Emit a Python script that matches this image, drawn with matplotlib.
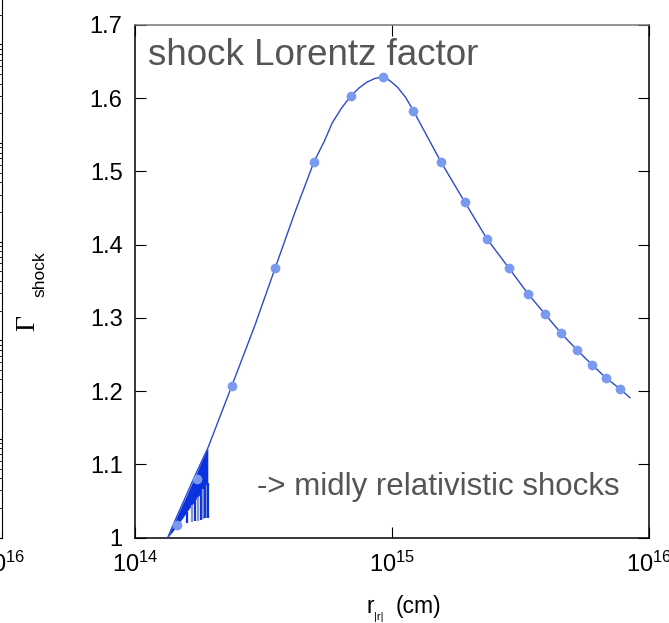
import matplotlib
matplotlib.use('Agg')
import matplotlib.pyplot as plt
from matplotlib.ticker import FixedLocator, FuncFormatter, NullLocator, LogLocator

# shock Lorentz factor vs radius
line_r = [1.34e14, 1.46e14, 1.74e14, 1.92e14, 2.38e14, 2.93e14, 3.51e14, 4.2e14,
          4.97e14, 5.45e14, 5.85e14, 6.35e14, 6.92e14, 7.45e14, 8.0e14, 8.6e14,
          9.22e14, 9.8e14, 1.05e15, 1.13e15, 1.21e15, 1.55e15,
          1.92e15, 2.34e15, 2.85e15, 3.38e15, 3.94e15, 4.55e15, 5.25e15, 6.0e15,
          6.8e15, 7.71e15, 8.43e15]
line_g = [1.0, 1.03, 1.09, 1.122, 1.207, 1.29, 1.368, 1.445,
          1.513, 1.541, 1.566, 1.586, 1.603, 1.614, 1.622, 1.627,
          1.629, 1.624, 1.615, 1.601, 1.583, 1.513,
          1.458, 1.408, 1.368, 1.333, 1.305, 1.279, 1.256, 1.236,
          1.218, 1.203, 1.191]

pts_r = [1.46e14, 1.74e14, 2.38e14, 3.51e14, 4.97e14, 6.92e14, 9.22e14, 1.21e15,
         1.55e15, 1.92e15, 2.34e15, 2.85e15, 3.38e15, 3.94e15, 4.55e15, 5.25e15,
         6.0e15, 6.8e15, 7.71e15]
pts_g = [1.017, 1.080, 1.207, 1.368, 1.513, 1.603, 1.629, 1.583,
         1.513, 1.458, 1.408, 1.368, 1.333, 1.305, 1.279, 1.256,
         1.236, 1.218, 1.203]

# early oscillating part (filled band + spikes)
osc_r = [1.34e14, 1.46e14, 1.59e14, 1.66e14, 1.71e14, 1.76e14, 1.81e14, 1.84e14, 1.88e14, 1.90e14, 1.92e14]
osc_top = [1.0, 1.03, 1.058, 1.073, 1.083, 1.093, 1.103, 1.109, 1.116, 1.119, 1.122]
osc_mid = [1.0, 1.016, 1.035, 1.044, 1.050, 1.056, 1.061, 1.066, 1.069, 1.072, 1.074]
osc_bot = [1.0, 1.008, 1.020, 1.021, 1.022, 1.023, 1.024, 1.025, 1.026, 1.026, 1.027]

yticks = [1.0, 1.1, 1.2, 1.3, 1.4, 1.5, 1.6, 1.7]

plt.rcParams['font.family'] = ['Liberation Sans', 'DejaVu Sans']
plt.rcParams['mathtext.fontset'] = 'custom'
plt.rcParams['mathtext.rm'] = 'Liberation Sans'
plt.rcParams['mathtext.sf'] = 'Liberation Sans'
plt.rcParams['mathtext.it'] = 'Liberation Sans:italic'

fig = plt.figure(figsize=(6.69, 6.23), dpi=100)

# neighbouring panel, mostly cut off at the left edge
ax0 = fig.add_axes([2 / 669 - 0.5, 0.1372, 0.5, 0.95])
ax0.set_xscale('log')
ax0.set_yscale('log')
ax0.set_xlim(1e14, 1e16)
ax0.set_ylim(1e-3, 1e3)
ax0.set_xticks([1e16])
ax0.xaxis.set_minor_locator(NullLocator())
ax0.yaxis.tick_right()
ax0.yaxis.set_minor_locator(LogLocator(subs='all'))
ax0.tick_params(axis='y', which='both', direction='in', labelright=False, length=6)
ax0.tick_params(axis='x', direction='in', labelsize=17, pad=10)
ax0.spines['top'].set_visible(False)

ax = fig.add_axes([135 / 669, 0.1372, 514 / 669, 0.8228])
ax.plot(line_r, line_g, color='#2a4bc8', lw=1.0, zorder=3)
ax.fill_between(osc_r, osc_mid, osc_top, color='#0a32e0', lw=0, zorder=2)
ax.vlines(osc_r[2:], osc_bot[2:], osc_mid[2:], colors=['#0a32e0', '#8a96c4'] * 5, lw=1.6, zorder=2)
ax.plot(pts_r, pts_g, 'o', color='#7a9af0', ms=7, mec='none', zorder=4)

ax.set_xscale('log')
ax.set_xlim(1e14, 1e16)
ax.set_ylim(1.0, 1.7)
ax.xaxis.set_minor_locator(NullLocator())
ax.yaxis.set_major_locator(FixedLocator(yticks))
ax.yaxis.set_major_formatter(FuncFormatter(lambda v, p: '1' if abs(v - 1) < 1e-9 else '%.1f' % v))
ax.tick_params(which='both', direction='in', top=True, right=True, length=8, labelsize=17)
ax.tick_params(axis='y', pad=9)
ax.tick_params(axis='x', pad=10)
for s in ax.spines.values():
    s.set_linewidth(1.1)
ax.spines['top'].set_color('#777777')

ax.text(0.025, 0.922, 'shock Lorentz factor', transform=ax.transAxes, fontsize=26.5,
        color='#555555', va='baseline', ha='left')
ax.text(0.237, 0.083, '-> midly relativistic shocks', transform=ax.transAxes, fontsize=22.5,
        color='#555555', va='baseline', ha='left')

# axis labels
fig.text(34 / 669, 1 - 331 / 623, '\u0393', rotation=90, rotation_mode='anchor',
         ha='left', va='baseline', fontsize=20, family=['Liberation Serif'])
fig.text(44 / 669, 1 - 297 / 623, 'shock', rotation=90, rotation_mode='anchor',
         ha='left', va='baseline', fontsize=12.5)
fig.text(367 / 669, 1 - 613 / 623, 'r', ha='left', va='baseline', fontsize=16.5)
fig.text(374 / 669, 1 - 620 / 623, '|r|', ha='left', va='baseline', fontsize=8)
fig.text(396 / 669, 1 - 613 / 623, '(cm)', ha='left', va='baseline', fontsize=16.5)

plt.savefig('out.png', dpi=100)
